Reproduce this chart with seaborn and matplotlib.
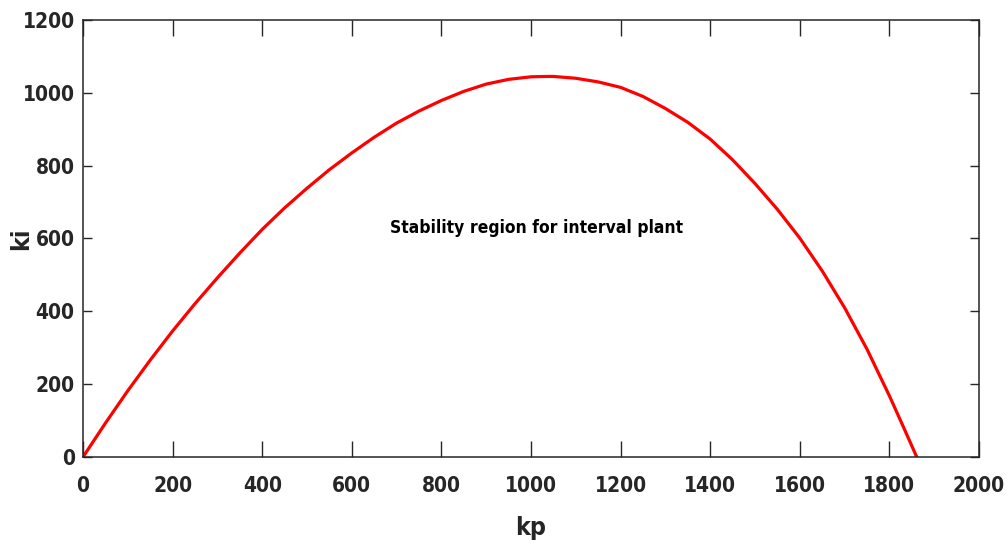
import matplotlib
matplotlib.use("Agg")
import matplotlib.pyplot as plt
import seaborn as sns
import pandas as pd

# Values
kp = [0, 50, 100, 150, 200, 250, 300, 350, 400, 450, 500, 550, 600, 650,
      700, 750, 800, 850, 900, 950, 1000, 1035, 1050, 1100, 1150, 1200,
      1250, 1300, 1350, 1400, 1450, 1500, 1550, 1600, 1650, 1700, 1750,
      1800, 1830, 1861]
ki = [0, 93, 182, 266, 346, 421, 492, 560, 625, 684, 738, 789, 835, 878,
      917, 950, 979, 1004, 1024, 1037, 1044, 1045, 1045, 1040, 1030, 1015,
      990, 957, 919, 873, 816, 751, 680, 601, 511, 410, 296,
      168, 86, 0]

x_ticks = [0, 200, 400, 600, 800, 1000, 1200, 1400, 1600, 1800, 2000]
y_ticks = [0, 200, 400, 600, 800, 1000, 1200]
annotation = "Stability region for interval plant"

sns.set_theme(style="white")
plt.rcParams['font.family'] = ['DejaVu Sans']
plt.rcParams['font.stretch'] = 'condensed'
plt.rcParams['font.weight'] = 'bold'

df = pd.DataFrame({"kp": kp, "ki": ki})

fig = plt.figure(figsize=(10.08, 5.5), dpi=100)
ax = fig.add_axes([83 / 1008, 1 - 457 / 550, 896 / 1008, 437 / 550])

sns.lineplot(data=df, x="kp", y="ki", ax=ax, color="#ff0000", linewidth=2.3,
             sort=False, estimator=None)

ax.set_xlim(0, 2000)
ax.set_ylim(0, 1200)
ax.set_xticks(x_ticks)
ax.set_yticks(y_ticks)
ax.set_xticklabels([str(t) for t in x_ticks])
ax.set_yticklabels([str(t) for t in y_ticks])

dark = "#262626"
for s in ax.spines.values():
    s.set_visible(True)
    s.set_color(dark)
    s.set_linewidth(1.1)

ax.tick_params(axis='x', direction='in', length=11.5, width=1.0, color=dark,
               top=True, bottom=True, labelsize=15, labelcolor=dark, pad=14)
ax.tick_params(axis='y', direction='in', length=6.5, width=1.0, color=dark,
               left=True, right=True, labelsize=15, labelcolor=dark, pad=6)
for lab in ax.get_xticklabels() + ax.get_yticklabels():
    lab.set_fontweight('bold')
    lab.set_fontstretch('condensed')

ax.set_xlabel("kp", fontsize=18, fontweight='bold', color=dark)
ax.set_ylabel("ki", fontsize=18, fontweight='bold', color=dark)
ax.xaxis.set_label_coords(0.5, -0.136)
ax.xaxis.label.set_va('top')
ax.yaxis.set_label_coords(-0.069, 0.5)
ax.yaxis.label.set_va('center')

ax.text(685, 629, annotation, fontsize=12.5, fontweight='bold', color='black',
        ha='left', va='center', fontstretch='condensed')

fig.savefig("out.png", dpi=100)
